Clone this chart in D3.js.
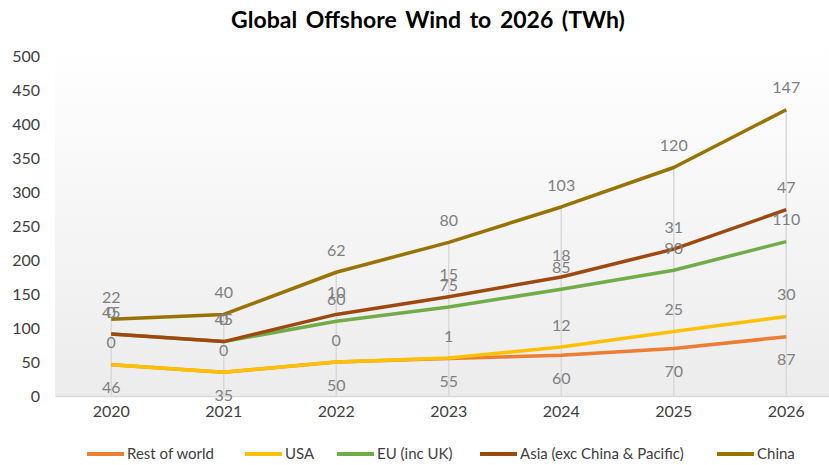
<!DOCTYPE html>
<html>
<head>
<meta charset="utf-8">
<script src="https://cdn.jsdelivr.net/npm/d3@7"></script>
<style>
  body { margin: 0; background: #fff; }
  svg { display: block; font-family: Lato, "Open Sans", sans-serif; }
</style>
</head>
<body>
<svg id="chart" width="829" height="465"></svg>
<script>
const years = ['2020', '2021', '2022', '2023', '2024', '2025', '2026']
const seriesNames = ['Rest of world', 'USA', 'EU (inc UK)', 'Asia (exc China & Pacific)', 'China']
const restOfWorld = [46, 35, 50, 55, 60, 70, 87]
const usa = [0, 0, 0, 1, 12, 25, 30]
const eu = [45, 45, 60, 75, 85, 90, 110]
const asia = [0, 0, 10, 15, 18, 31, 47]
const china = [22, 40, 62, 80, 103, 120, 147]
const yTicks = [0, 50, 100, 150, 200, 250, 300, 350, 400, 450, 500]

const colors = ['#ED7D31', '#FFC000', '#70AD47', '#9E480E', '#997300']
const values = [restOfWorld, usa, eu, asia, china]

// stacked lines, like the excel original
const rows = years.map((yr, i) => {
    const r = {year: yr}
    seriesNames.forEach((n, k) => r[n] = values[k][i])
    return r
})
const stacked = d3.stack().keys(seriesNames)(rows)

const svg = d3.select('#chart')
const plotLeft = 55, plotRight = 842.5, plotTop = 56, plotBottom = 396

const x = d3.scaleBand()
    .domain(years)
    .range([plotLeft, plotRight])

const y = d3.scaleLinear()
    .domain([0, 500])
    .range([plotBottom, plotTop])

const cx = d => x(d) + x.bandwidth() / 2

// plot background
const grad = svg.append('defs')
    .append('linearGradient')
    .attr('id', 'bg')
    .attr('x1', 0).attr('y1', 0).attr('x2', 0).attr('y2', 1)
grad.append('stop').attr('offset', '0%').attr('stop-color', '#ffffff')
grad.append('stop').attr('offset', '100%').attr('stop-color', '#ececec')

svg.append('rect')
    .attr('x', plotLeft)
    .attr('y', 44)
    .attr('width', 829 - plotLeft)
    .attr('height', plotBottom - 44)
    .attr('fill', 'url(#bg)')

svg.append('text')
    .attr('x', 428)
    .attr('y', 28)
    .attr('text-anchor', 'middle')
    .style('font-size', '23px')
    .style('font-weight', 'bold')
    .style('word-spacing', '3px')
    .style('fill', '#000')
    .text('Global Offshore Wind to 2026 (TWh)')

// y axis
const yAxis = svg.append('g')
    .attr('transform', `translate(${plotLeft},0)`)
    .call(d3.axisLeft(y).tickValues(yTicks).tickSize(0).tickPadding(15))
yAxis.select('.domain').remove()
yAxis.selectAll('text')
    .style('font-size', '16px')
    .style('font-family', 'Lato, sans-serif')
    .style('fill', '#404040')

// x axis
const xAxis = svg.append('g')
    .attr('transform', `translate(0,${plotBottom})`)
    .call(d3.axisBottom(x).tickSize(0).tickPadding(10))
xAxis.select('.domain')
    .attr('stroke', '#d9d9d9')
    .attr('stroke-width', 1.5)
xAxis.selectAll('text')
    .style('font-size', '16px')
    .style('font-family', 'Lato, sans-serif')
    .style('fill', '#404040')

// drop lines from the top series
const topLayer = stacked[stacked.length - 1]
svg.append('g')
    .selectAll('line')
    .data(topLayer)
    .join('line')
    .attr('x1', d => cx(d.data.year))
    .attr('x2', d => cx(d.data.year))
    .attr('y1', d => y(d[1]))
    .attr('y2', plotBottom)
    .attr('stroke', '#d9d9d9')
    .attr('stroke-width', 1.5)

const line = d3.line()
    .x(d => cx(d.data.year))
    .y(d => y(d[1]))

svg.append('g')
    .selectAll('path')
    .data(stacked)
    .join('path')
    .attr('d', line)
    .attr('fill', 'none')
    .attr('stroke', (d, i) => colors[i])
    .attr('stroke-width', 3.5)
    .attr('stroke-linejoin', 'round')

// data labels: above the point, rest of world below it
const labels = svg.append('g')
stacked.forEach((layer, k) => {
    labels.append('g')
        .selectAll('text')
        .data(layer)
        .join('text')
        .attr('x', d => cx(d.data.year))
        .attr('y', d => y(d[1]) + (k === 0 ? 23 : -22))
        .attr('dy', '0.35em')
        .attr('text-anchor', 'middle')
        .style('font-size', '16px')
        .style('fill', '#7f7f7f')
        .text(d => d.data[layer.key])
})

// legend
const legendX = [87, 245, 337, 480, 717]
const legend = svg.append('g')
    .selectAll('g')
    .data(seriesNames)
    .join('g')
    .attr('transform', (d, i) => `translate(${legendX[i]},454)`)
legend.append('line')
    .attr('x1', 0).attr('x2', 37)
    .attr('stroke', (d, i) => colors[i])
    .attr('stroke-width', 4)
legend.append('text')
    .attr('x', 40)
    .attr('dy', '0.35em')
    .style('font-size', '15px')
    .style('fill', '#404040')
    .text(d => d)
</script>
</body>
</html>
